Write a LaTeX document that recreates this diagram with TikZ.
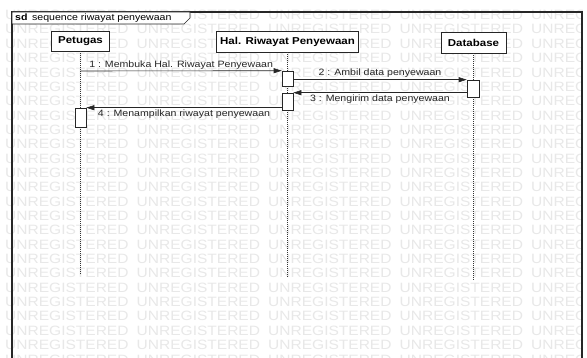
\documentclass[tikz,border=0pt]{standalone}
\usepackage{fontspec}
\setmainfont[FakeStretch=1.15]{Liberation Sans}
\usepackage{tikz}
\usetikzlibrary{arrows.meta}
\tikzset{
	head/.style={draw=black!85, fill=white, line width=0.6pt, inner sep=0pt, font=\bfseries},
	act/.style={draw=black!85, fill=white, line width=0.6pt, inner sep=0pt, minimum width=11pt},
	lifeline/.style={black!80, line width=0.6pt, dash pattern=on 1pt off 1pt},
	msg/.style={black!85, line width=0.6pt, -{Triangle[length=8pt,width=5pt]}},
	lbl/.style={inner sep=1.5pt},
	wmark/.style={black!9, inner sep=0pt, anchor=west, font=\fontsize{13.5}{14}\selectfont}
}

\begin{document}
\begin{tikzpicture}[x=1pt, y=-1pt, font=\fontsize{9.2}{10}\selectfont]
	\useasboundingbox (0,0) rectangle (587,358);
	\fill[white] (0,0) rectangle (587,358);
	
	%WATERMARK
	\begin{scope}
		\clip (0,8) rectangle (582,358);
		\foreach \k in {0,...,24}
		\foreach \j in {0,...,4}
		\node[wmark] (wm-\j-\k) at ({5+131.5*\j},{15+14.35*\k}) {UNREGISTERED};
	\end{scope}
	
	%FRAME
	\draw[black!85, line width=1.2pt] (12,362) -- (12,12) -- (582,12) -- (582,362);
	\draw[black!85, line width=0.6pt, fill=white] (12,12) -- (190,12) -- (190,18) -- (184,24) -- (12,24) -- cycle;
	\node[anchor=west, inner sep=0pt] (title) at (15,18.5) {\textbf{sd}\enspace sequence riwayat penyewaan};
	
	%HEADS
	\node[head, minimum width=58pt, minimum height=20pt] (petugas) at (80.5,41) {Petugas};
	\node[head, minimum width=142pt, minimum height=21pt] (hal) at (287.5,41.5) {Hal. Riwayat Penyewaan};
	\node[head, minimum width=65pt, minimum height=21pt] (db) at (473.5,42.5) {Database};
	
	%LIFELINES
	\coordinate (petugasend) at (80.5,275);
	\coordinate (halend) at (287.5,278);
	\coordinate (dbend) at (473,281);
	\draw[lifeline] (petugas.south) -- (petugasend);
	\draw[lifeline] (hal.south) -- (halend);
	\draw[lifeline] (db.south -| dbend) -- (dbend);
	
	%ACTIVATIONS
	\node[act, minimum height=15pt] (halA) at (287.5,78.5) {};
	\node[act, minimum height=17pt] (halB) at (287.5,101.5) {};
	\node[act, minimum width=12pt, minimum height=17pt] (dbA) at (473,88.5) {};
	\node[act, minimum height=19pt] (petugasA) at (80.5,117.5) {};
	
	%MESSAGES
	\coordinate (m1) at (80.5,71);
	\draw[msg] (m1) -- (halA.north west) node[lbl, midway, above] {1 : Membuka Hal. Riwayat Penyewaan};
	\draw[msg] (halA.east |- dbA.north) -- (dbA.north west) node[lbl, midway, above] {2 : Ambil data penyewaan};
	\draw[msg] (dbA.west |- halB.north) -- (halB.north east) node[lbl, midway, below] {3 : Mengirim data penyewaan};
	\draw[msg] (halB.west |- petugasA.north) -- (petugasA.north east) node[lbl, midway, below] {4 : Menampilkan riwayat penyewaan};
\end{tikzpicture}
\end{document}
